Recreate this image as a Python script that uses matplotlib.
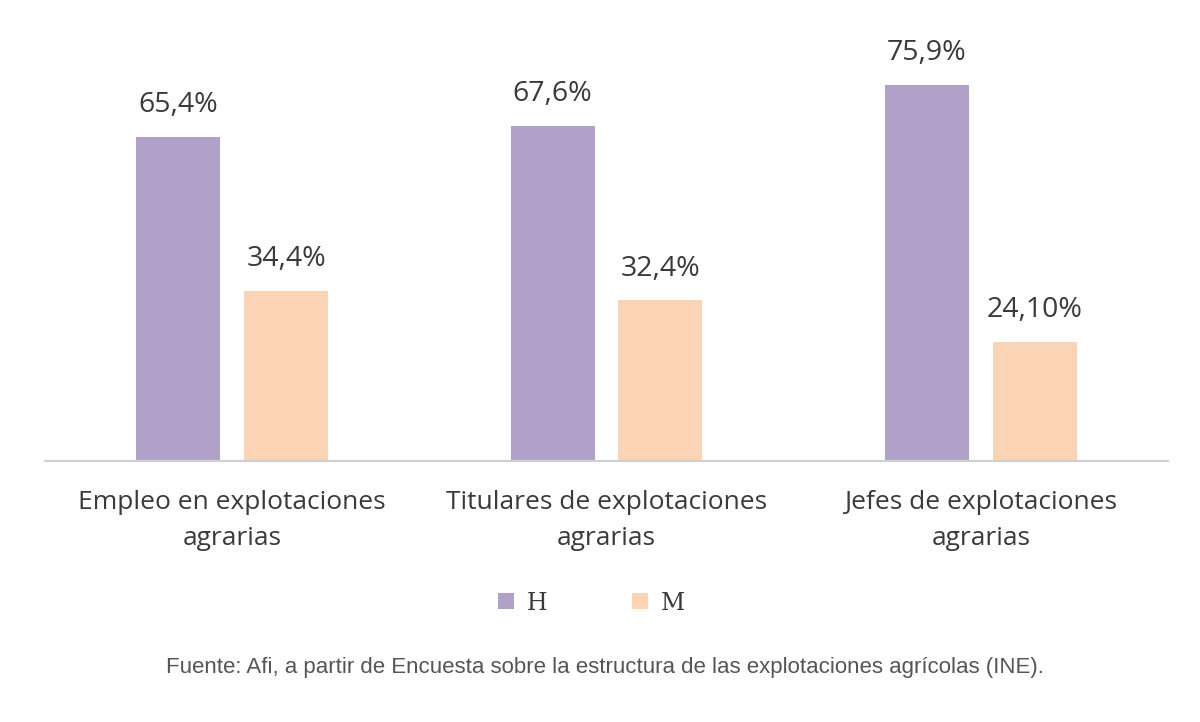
import numpy as np
import matplotlib.pyplot as plt

categories = ["Empleo en explotaciones\nagrarias",
              "Titulares de explotaciones\nagrarias",
              "Jefes de explotaciones\nagrarias"]
h_vals = [65.4, 67.6, 75.9]
m_vals = [34.4, 32.4, 24.1]
h_labels = ["65,4%", "67,6%", "75,9%"]
m_labels = ["34,4%", "32,4%", "24,10%"]

col_h = "#b1a0c7"
col_m = "#fad4b4"
txt = "#3a3a3a"

fig = plt.figure(figsize=(12, 7.22), dpi=100)
ax = fig.add_axes([45 / 1200, 1 - 461 / 722, (1168 - 45) / 1200, 446 / 722])

x = np.arange(len(categories))
w = 0.224
off = 0.144
bh = ax.bar(x - off, h_vals, w, color=col_h)
bm = ax.bar(x + off, m_vals, w, color=col_m)

for xi, v, lab in zip(x - off, h_vals, h_labels):
    ax.text(xi, v + 6.4, lab, ha="center", va="center", fontsize=20.5,
            family="Open Sans", color=txt)
for xi, v, lab in zip(x + off, m_vals, m_labels):
    ax.text(xi, v + 6.4, lab, ha="center", va="center", fontsize=20.5,
            family="Open Sans", color=txt)

ax.set_xlim(-0.5, 2.5)
ax.set_ylim(0, 90)
ax.set_yticks([])
ax.set_xticks(x)
ax.set_xticklabels(categories, fontsize=19, family="Open Sans", color=txt,
                   linespacing=1.55)
ax.tick_params(axis="x", length=0, pad=21)
for s in ["top", "right", "left"]:
    ax.spines[s].set_visible(False)
ax.spines["bottom"].set_color("#d0d0d0")
ax.spines["bottom"].set_linewidth(1.6)

# legend
leg = fig.legend([bh, bm], ["H", "M"], loc="center", bbox_to_anchor=(0.493, 1 - 603 / 722),
                 ncol=2, frameon=False, handlelength=0.65, handleheight=0.65,
                 handletextpad=0.55, columnspacing=3.6,
                 prop={"family": "DejaVu Serif", "size": 17})
for t in leg.get_texts():
    t.set_color(txt)

fig.text(0.504, 1 - 668 / 722,
         "Fuente: Afi, a partir de Encuesta sobre la estructura de las explotaciones agrícolas (INE).",
         ha="center", va="center", fontsize=16, family="Liberation Sans", color="#555555")

plt.savefig("out.png", dpi=100)
